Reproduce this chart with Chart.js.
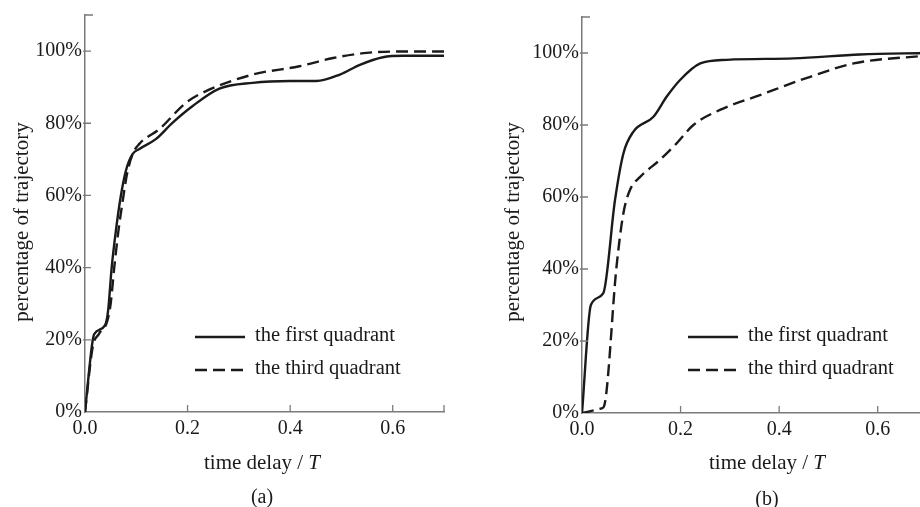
<!DOCTYPE html>
<html>
<head>
<meta charset="utf-8">
<script src="https://cdn.jsdelivr.net/npm/chart.js@4/dist/chart.umd.min.js"></script>
<style>
  html, body { margin: 0; padding: 0; background: #fff; overflow: hidden; width: 920px; height: 507px; }
  .panel { position: absolute; top: 0; height: 507px; }
  #panelA { left: 0; width: 460px; }
  #panelB { left: 460px; width: 480px; }
</style>
</head>
<body>
<div class="panel" id="panelA"><canvas id="chartA" width="460" height="507"></canvas></div>
<div class="panel" id="panelB"><canvas id="chartB" width="480" height="507"></canvas></div>
<script>
  const X_TICKS = [0, 0.2, 0.4, 0.6];
  const Y_TICKS = [0, 20, 40, 60, 80, 100];
  const SERIES_LABELS = ["the first quadrant", "the third quadrant"];

  // (a) first quadrant
  const aFirstX = [0, 0.014, 0.018, 0.039, 0.045, 0.052, 0.06, 0.07, 0.08, 0.093, 0.106, 0.138, 0.171, 0.21, 0.262, 0.327, 0.4, 0.451, 0.497, 0.536, 0.581, 0.62, 0.7];
  const aFirstY = [0, 18.9, 21.6, 24, 28, 40, 50, 60, 67, 71.5, 72.9, 75.6, 80.2, 84.8, 89.6, 91.2, 91.7, 91.7, 93.5, 96.2, 98.3, 98.7, 98.7];
  // (a) third quadrant
  const aThirdX = [0, 0.015, 0.027, 0.043, 0.05, 0.057, 0.065, 0.073, 0.082, 0.093, 0.106, 0.145, 0.197, 0.236, 0.327, 0.418, 0.484, 0.549, 0.62, 0.7];
  const aThirdY = [0, 18, 21.6, 25, 30, 40, 50, 58, 66, 71.5, 74.3, 78.4, 85.7, 88.9, 93.5, 95.8, 98.1, 99.5, 99.9, 99.9];

  // (b) first quadrant
  const bFirstX = [0, 0.018, 0.043, 0.067, 0.084, 0.104, 0.145, 0.172, 0.199, 0.24, 0.294, 0.429, 0.564, 0.7];
  const bFirstY = [0, 30, 33.2, 59.2, 72.1, 78.1, 82.3, 87.9, 92.5, 97.1, 98.1, 98.5, 99.6, 100];
  // (b) third quadrant
  const bThirdX = [0, 0.04, 0.045, 0.07, 0.084, 0.0975, 0.118, 0.158, 0.192, 0.226, 0.28, 0.361, 0.463, 0.551, 0.7];
  const bThirdY = [0, 1.3, 2, 40.6, 55.5, 62, 65.6, 70.3, 74.9, 80, 84.2, 88.3, 93.4, 97.1, 99.3];

  const FONT = "'Liberation Serif', 'Times New Roman', serif";
  const AXIS_COLOR = "#7a7a7a";
  const INK = "#1a1a1a";

  function toPoints(xs, ys){
    return xs.map((x, i) => ({ x: x, y: ys[i] }));
  }

  // inward tick marks + end ticks, titles, caption, legend
  const decorPlugin = {
    id: "decor",
    afterDraw(chart, args, opts){
      const ctx = chart.ctx;
      const xs = chart.scales.x, ys = chart.scales.y;
      const area = chart.chartArea;
      ctx.save();
      ctx.strokeStyle = AXIS_COLOR;
      ctx.lineWidth = 1.3;
      ctx.beginPath();
      X_TICKS.slice(1).concat([xs.max]).forEach(v => {
        const px = xs.getPixelForValue(v);
        ctx.moveTo(px, area.bottom);
        ctx.lineTo(px, area.bottom - 7);
      });
      Y_TICKS.slice(1).forEach(v => {
        const py = ys.getPixelForValue(v);
        ctx.moveTo(area.left - 2, py);
        ctx.lineTo(area.left + 6, py);
      });
      const topY = ys.getPixelForValue(ys.max);
      ctx.moveTo(area.left, topY);
      ctx.lineTo(area.left + 8, topY);
      ctx.stroke();

      ctx.fillStyle = INK;
      // y title
      ctx.save();
      ctx.translate(opts.yTitleX, opts.yTitleY);
      ctx.rotate(-Math.PI / 2);
      ctx.font = "21px " + FONT;
      ctx.textAlign = "center";
      ctx.textBaseline = "middle";
      ctx.fillText("percentage of trajectory", 0, 0);
      ctx.restore();

      // x title with italic T
      ctx.textBaseline = "middle";
      ctx.textAlign = "left";
      const part1 = "time delay / ";
      ctx.font = "21px " + FONT;
      const w1 = ctx.measureText(part1).width;
      ctx.font = "italic 21px " + FONT;
      const w2 = ctx.measureText("T").width;
      const sx = opts.xTitleX - (w1 + w2) / 2;
      ctx.font = "21px " + FONT;
      ctx.fillText(part1, sx, opts.xTitleY);
      ctx.font = "italic 21px " + FONT;
      ctx.fillText("T", sx + w1, opts.xTitleY);

      // caption
      ctx.font = "20px " + FONT;
      ctx.textAlign = "center";
      ctx.fillText(opts.caption, opts.xTitleX, opts.captionY);

      // legend
      chart.data.datasets.forEach((ds, i) => {
        const ly = opts.legendY + i * 33;
        ctx.strokeStyle = INK;
        ctx.lineWidth = 2.4;
        ctx.setLineDash(ds.borderDash || []);
        ctx.beginPath();
        ctx.moveTo(opts.legendX, ly);
        ctx.lineTo(opts.legendX + 50, ly);
        ctx.stroke();
        ctx.setLineDash([]);
        ctx.font = "20.5px " + FONT;
        ctx.textAlign = "left";
        ctx.fillText(ds.label, opts.legendX + 60, ly - 1);
      });
      ctx.restore();
    }
  };

  function makeChart(id, firstPts, thirdPts, cfg){
    const ctx = document.getElementById(id).getContext("2d");
    return new Chart(ctx, {
      type: "line",
      data: {
        datasets: [
          {
            label: SERIES_LABELS[0],
            data: firstPts,
            borderColor: INK,
            borderWidth: 2.4,
            pointRadius: 0,
            cubicInterpolationMode: "monotone",
            fill: false
          },
          {
            label: SERIES_LABELS[1],
            data: thirdPts,
            borderColor: INK,
            borderWidth: 2.4,
            borderDash: [12, 6],
            pointRadius: 0,
            cubicInterpolationMode: "monotone",
            fill: false
          }
        ]
      },
      options: {
        responsive: false,
        animation: false,
        layout: { padding: { top: cfg.top, right: cfg.right, left: 0, bottom: 0 } },
        plugins: {
          legend: { display: false },
          tooltip: { enabled: false },
          decor: cfg.decor
        },
        scales: {
          x: {
            type: "linear",
            min: 0,
            max: 0.7,
            afterBuildTicks: s => { s.ticks = X_TICKS.map(v => ({ value: v })); },
            afterFit: s => { s.height = cfg.xHeight; },
            grid: { display: false, drawTicks: false },
            border: { display: true, color: AXIS_COLOR, width: 1.5 },
            ticks: {
              color: INK,
              padding: 5,
              maxRotation: 0,
              font: { family: FONT, size: 20 },
              callback: v => v.toFixed(1)
            }
          },
          y: {
            min: 0,
            max: 110,
            afterBuildTicks: s => { s.ticks = Y_TICKS.map(v => ({ value: v })); },
            afterFit: s => { s.width = cfg.yWidth; },
            grid: { display: false, drawTicks: false },
            border: { display: true, color: AXIS_COLOR, width: 1.5 },
            ticks: {
              color: INK,
              padding: 3,
              font: { family: FONT, size: 20 },
              callback: v => v + "%"
            }
          }
        }
      },
      plugins: [decorPlugin]
    });
  }

  makeChart("chartA", toPoints(aFirstX, aFirstY), toPoints(aThirdX, aThirdY), {
    top: 12, right: 16, yWidth: 85, xHeight: 95,
    decor: { yTitleX: 22, yTitleY: 222, xTitleX: 262, xTitleY: 463, captionY: 498, caption: "(a)", legendX: 195, legendY: 337 }
  });

  makeChart("chartB", toPoints(bFirstX, bFirstY), toPoints(bThirdX, bThirdY), {
    top: 17, right: 13, yWidth: 122, xHeight: 94,
    decor: { yTitleX: 53, yTitleY: 222, xTitleX: 307, xTitleY: 463, captionY: 500, caption: "(b)", legendX: 228, legendY: 337 }
  });
</script>
</body>
</html>
